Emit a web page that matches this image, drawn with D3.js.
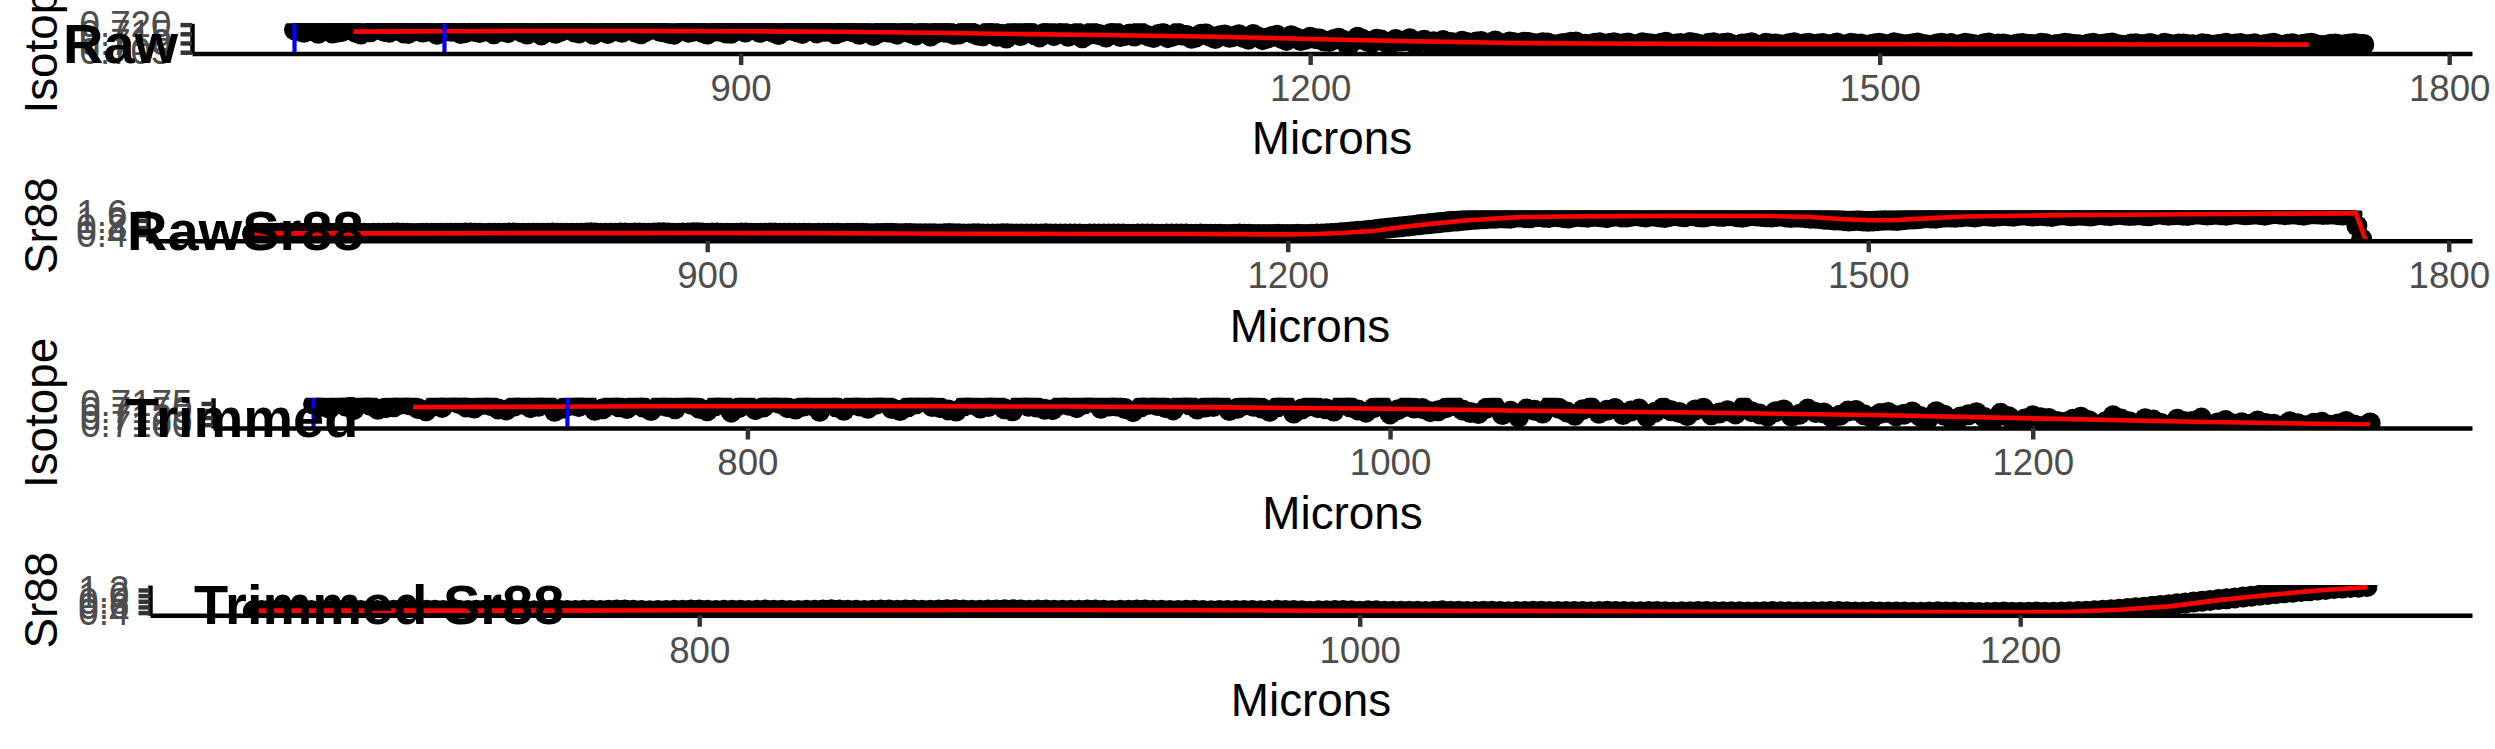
<!DOCTYPE html>
<html><head><meta charset="utf-8">
<script src="https://cdn.jsdelivr.net/npm/d3@7"></script>
<style>html,body{margin:0;padding:0;background:#fff;} svg{display:block;}</style>
</head><body>
<svg id="chart" width="2495" height="749"></svg>
<script>
// ---------------- DATA ----------------
// laser sampling grid (microns), one sample every 2.5 microns
const microns = d3.range(665, 1756, 2.5);

const isotopeRaw = [
0.7172,0.7165,0.7158,0.7177,0.7166,0.7153,0.7181,0.7169,0.7154,0.7160,0.7163,0.7174,0.7170,0.7157,0.7149,0.7167,0.7161,0.7182,0.7176,0.7162,
0.7159,0.7171,0.7168,0.7155,0.7152,0.7166,0.7173,0.7160,0.7165,0.7180,0.7147,0.7158,0.7169,0.7164,0.7178,0.7151,0.7156,0.7170,0.7163,0.7157,
0.7171,0.7162,0.7150,0.7168,0.7164,0.7156,0.7183,0.7172,0.7158,0.7149,0.7167,0.7175,0.7144,0.7161,0.7170,0.7153,0.7162,0.7179,0.7175,0.7160,
0.7155,0.7166,0.7168,0.7147,0.7179,0.7163,0.7151,0.7170,0.7166,0.7158,0.7172,0.7181,0.7157,0.7150,0.7163,0.7174,0.7185,0.7164,0.7160,0.7152,
0.7148,0.7167,0.7171,0.7159,0.7164,0.7176,0.7156,0.7149,0.7177,0.7165,0.7162,0.7154,0.7153,0.7171,0.7169,0.7160,0.7174,0.7182,0.7158,0.7166,
0.7166,0.7157,0.7146,0.7163,0.7172,0.7168,0.7161,0.7152,0.7180,0.7170,0.7155,0.7162,0.7164,0.7175,0.7150,0.7158,0.7170,0.7165,0.7159,0.7147,
0.7163,0.7170,0.7141,0.7155,0.7167,0.7160,0.7156,0.7148,0.7174,0.7163,0.7152,0.7144,0.7160,0.7168,0.7138,0.7153,0.7165,0.7159,0.7157,0.7146,
0.7149,0.7160,0.7168,0.7152,0.7143,0.7139,0.7158,0.7164,0.7136,0.7147,0.7127,0.7155,0.7151,0.7141,0.7170,0.7158,0.7145,0.7133,0.7153,0.7161,
0.7140,0.7151,0.7157,0.7136,0.7148,0.7155,0.7128,0.7144,0.7160,0.7149,0.7143,0.7132,0.7152,0.7158,0.7135,0.7141,0.7149,0.7138,0.7163,0.7146,
0.7138,0.7130,0.7146,0.7152,0.7129,0.7137,0.7155,0.7143,0.7141,0.7126,0.7133,0.7148,0.7150,0.7135,0.7124,0.7139,0.7143,0.7131,0.7137,0.7145,
0.7129,0.7121,0.7146,0.7133,0.7118,0.7127,0.7135,0.7142,0.7125,0.7114,0.7140,0.7128,0.7113,0.7120,0.7131,0.7124,0.7122,0.7111,0.7108,0.7119,
0.7126,0.7114,0.7082,0.7109,0.7131,0.7120,0.7110,0.7103,0.7121,0.7116,0.7104,0.7097,0.7119,0.7110,0.7112,0.7123,0.7098,0.7106,0.7115,0.7102,
0.7107,0.7100,0.7113,0.7104,0.7101,0.7095,0.7110,0.7103,0.7096,0.7105,0.7108,0.7098,0.7102,0.7111,0.7099,0.7093,0.7106,0.7101,0.7097,0.7104,
0.7103,0.7097,0.7094,0.7101,0.7100,0.7092,0.7089,0.7096,0.7098,0.7104,0.7105,0.7095,0.7093,0.7090,0.7099,0.7102,0.7091,0.7097,0.7102,0.7094,
0.7096,0.7100,0.7088,0.7093,0.7101,0.7097,0.7094,0.7089,0.7099,0.7104,0.7090,0.7095,0.7097,0.7092,0.7103,0.7098,0.7092,0.7087,0.7098,0.7101,
0.7093,0.7097,0.7100,0.7091,0.7087,0.7094,0.7096,0.7102,0.7091,0.7088,0.7099,0.7095,0.7094,0.7090,0.7089,0.7097,0.7101,0.7093,0.7095,0.7099,
0.7090,0.7094,0.7097,0.7089,0.7093,0.7100,0.7086,0.7092,0.7099,0.7095,0.7094,0.7088,0.7091,0.7096,0.7098,0.7093,0.7088,0.7101,0.7096,0.7091,
0.7092,0.7096,0.7100,0.7093,0.7089,0.7086,0.7095,0.7099,0.7093,0.7097,0.7087,0.7092,0.7098,0.7094,0.7091,0.7088,0.7096,0.7100,0.7090,0.7094,
0.7094,0.7091,0.7088,0.7095,0.7097,0.7093,0.7092,0.7089,0.7099,0.7096,0.7086,0.7091,0.7093,0.7098,0.7096,0.7092,0.7090,0.7087,0.7095,0.7099,
0.7089,0.7093,0.7097,0.7100,0.7092,0.7088,0.7087,0.7094,0.7096,0.7091,0.7093,0.7097,0.7090,0.7086,0.7098,0.7093,0.7088,0.7095,0.7094,0.7090,
0.7091,0.7088,0.7096,0.7093,0.7086,0.7090,0.7093,0.7098,0.7089,0.7094,0.7097,0.7091,0.7092,0.7096,0.7087,0.7090,0.7095,0.7099,0.7090,0.7087,
0.7093,0.7096,0.7088,0.7092,0.7096,0.7099,0.7091,0.7087,0.7086,0.7093,0.7094,0.7089,0.7090,0.7095,0.7097,0.7093,0.7092
];

const sr88Raw = [
0.46,0.47,0.48,0.47,0.47,0.48,0.49,0.47,0.46,0.47,0.47,0.48,0.48,0.47,0.46,0.47,0.47,0.48,0.49,0.48,
0.47,0.48,0.48,0.47,0.46,0.47,0.47,0.48,0.48,0.49,0.49,0.48,0.47,0.46,0.46,0.47,0.48,0.48,0.47,0.47,
0.48,0.48,0.47,0.48,0.49,0.49,0.48,0.47,0.46,0.47,0.47,0.48,0.48,0.49,0.49,0.48,0.47,0.48,0.48,0.48,
0.47,0.48,0.49,0.48,0.48,0.47,0.47,0.48,0.48,0.49,0.50,0.49,0.48,0.48,0.47,0.48,0.49,0.49,0.48,0.49,
0.49,0.48,0.48,0.49,0.50,0.50,0.49,0.48,0.48,0.49,0.49,0.50,0.50,0.49,0.48,0.49,0.49,0.48,0.48,0.48,
0.48,0.49,0.49,0.48,0.47,0.48,0.48,0.49,0.49,0.48,0.48,0.47,0.47,0.48,0.48,0.47,0.46,0.47,0.47,0.47,
0.47,0.47,0.46,0.47,0.48,0.47,0.47,0.46,0.45,0.46,0.46,0.47,0.47,0.46,0.45,0.46,0.46,0.45,0.45,0.45,
0.45,0.45,0.44,0.45,0.46,0.45,0.45,0.44,0.44,0.45,0.45,0.44,0.43,0.44,0.44,0.45,0.45,0.44,0.44,0.44,
0.44,0.44,0.43,0.44,0.45,0.44,0.44,0.43,0.43,0.44,0.44,0.43,0.42,0.43,0.43,0.44,0.44,0.43,0.43,0.43,
0.43,0.42,0.42,0.43,0.44,0.43,0.43,0.42,0.42,0.43,0.43,0.44,0.44,0.43,0.42,0.42,0.43,0.42,0.42,0.42,
0.42,0.41,0.41,0.42,0.43,0.42,0.42,0.41,0.41,0.40,0.40,0.41,0.42,0.41,0.41,0.41,0.42,0.41,0.41,0.42,
0.43,0.44,0.45,0.46,0.48,0.50,0.52,0.54,0.57,0.59,0.62,0.65,0.68,0.71,0.74,0.77,0.80,0.83,0.86,0.89,
0.92,0.95,0.98,1.01,1.04,1.07,1.10,1.12,1.15,1.17,1.20,1.22,1.25,1.27,1.29,1.30,1.32,1.33,1.35,1.34,
1.33,1.38,1.40,1.36,1.35,1.41,1.43,1.38,1.37,1.42,1.41,1.36,1.34,1.40,1.44,1.41,1.38,1.43,1.42,1.39,
1.36,1.42,1.45,1.40,1.39,1.44,1.47,1.43,1.40,1.45,1.44,1.39,1.37,1.43,1.48,1.44,1.41,1.47,1.46,1.41,
1.39,1.45,1.49,1.44,1.42,1.47,1.46,1.41,1.38,1.44,1.48,1.45,1.43,1.41,1.40,1.43,1.45,1.40,1.37,1.39,
1.38,1.36,1.33,1.32,1.30,1.27,1.25,1.23,1.22,1.19,1.17,1.19,1.20,1.17,1.15,1.17,1.19,1.21,1.22,1.21,
1.20,1.24,1.27,1.28,1.29,1.32,1.35,1.34,1.33,1.37,1.40,1.39,1.38,1.41,1.44,1.42,1.40,1.44,1.47,1.45,
1.42,1.46,1.49,1.46,1.44,1.48,1.51,1.48,1.45,1.47,1.48,1.45,1.43,1.48,1.52,1.49,1.46,1.48,1.50,1.47,
1.45,1.50,1.53,1.49,1.47,1.52,1.55,1.51,1.48,1.50,1.52,1.48,1.46,1.52,1.56,1.53,1.50,1.52,1.54,1.50,
1.48,1.53,1.57,1.54,1.51,1.53,1.55,1.52,1.49,1.54,1.58,1.55,1.52,1.54,1.56,1.53,1.50,1.55,1.59,1.56,
1.53,1.55,1.57,1.53,1.50,1.55,1.58,1.56,1.54,1.55,1.56,1.53,1.51,1.53,1.55,0.90,0.15
];

// rolling-mean (red) lines
const isoSmoothMicrons = [696,725,750,775,800,850,900,950,1000,1050,1100,1150,1200,1250,1300,1305,1350,1400,1450,1500,1550,1600,1650,1700,1726];
const isoSmoothValues  = [0.7162,0.7163,0.7164,0.7165,0.7165,0.7165,0.7164,0.7161,0.7156,0.7148,0.7142,0.7134,0.7122,0.7110,0.7101,0.7100,0.7097,0.7095,0.7094,0.7094,0.7093,0.7093,0.7092,0.7092,0.7091];
const srSmoothMicrons = [666,700,750,800,850,900,950,1000,1050,1100,1150,1200,1215,1230,1245,1260,1275,1290,1305,1320,1350,1400,1450,1470,1485,1500,1515,1530,1550,1600,1650,1700,1750,1752,1757];
const srSmoothValues  = [0.47,0.47,0.47,0.48,0.48,0.49,0.48,0.46,0.45,0.43,0.43,0.41,0.43,0.50,0.62,0.84,1.02,1.18,1.30,1.39,1.43,1.46,1.45,1.40,1.28,1.21,1.23,1.32,1.42,1.50,1.54,1.58,1.60,1.60,0.10];

// trim cut markers (blue) and trimmed window end
const cutMarkers = [665, 744];
const trimEnd = 1305;

const panelTitles = ["Raw", "RawSr88", "Trimmed", "Trimmed Sr88"];
const yTitles = ["Isotope", "Sr88", "Isotope", "Sr88"];
const xTitle = "Microns";
const xTickValues = [[900,1200,1500,1800],[900,1200,1500,1800],[800,1000,1200],[800,1000,1200]];
const yTickValues = [[0.705,0.710,0.715,0.720],[0.4,0.8,1.2,1.6],[0.7100,0.7125,0.7150,0.7175],[0.4,0.6,0.8,1.0,1.2]];
const yTickFormats = [".3f", ".1f", ".4f", ".1f"];
const xDomains = [[611,1812],[611,1812],[633.7,1336.7],[633.7,1336.8]];
const yDomains = [[0.7043,0.7207],[0.051,1.761],[0.7088,0.7195],[0.305,1.374]];

// ---------------- LAYOUT ----------------
const W = 2495, H = 749, band = H / 4;
const panelLeft = [192, 148, 213, 150];
const panelRight = 2472;
const topOff = 23.3, bottomOff = 53.5;
const titleX = [63, 127, 125, 194];
const titleBaseOff = 62.5;
const xLabBaseOff = 154.3;
const yTitleX = 57;
const FONT = "'Liberation Sans', Arial, Helvetica, sans-serif";
const lw = 4.45;

const svg = d3.select("#chart");
svg.append("rect").attr("width", W).attr("height", H).attr("fill", "#fff");

const rawIso = microns.map((m, i) => ({x: m, y: isotopeRaw[i]}));
const rawSr = microns.map((m, i) => ({x: m, y: sr88Raw[i]}));
const isoSmooth = isoSmoothMicrons.map((m, i) => ({x: m, y: isoSmoothValues[i]}));
const srSmooth = srSmoothMicrons.map((m, i) => ({x: m, y: srSmoothValues[i]}));
const trim = arr => arr.filter(d => d.x <= trimEnd);

const panels = [
  {pts: rawIso, line: isoSmooth, vlines: cutMarkers},
  {pts: rawSr, line: srSmooth, vlines: []},
  {pts: trim(rawIso), line: trim(isoSmooth), vlines: cutMarkers},
  {pts: trim(rawSr), line: trim(srSmooth), vlines: []}
];

panels.forEach((p, i) => {
  const off = i * band;
  const top = off + topOff, bottom = off + bottomOff;
  const left = panelLeft[i];
  const x = d3.scaleLinear().domain(xDomains[i]).range([left, panelRight]);
  const y = d3.scaleLinear().domain(yDomains[i]).range([bottom, top]);
  const g = svg.append("g");

  const cid = "clip" + i;
  g.append("clipPath").attr("id", cid).append("rect")
    .attr("x", left).attr("y", top).attr("width", panelRight - left).attr("height", bottom - top);
  const pg = g.append("g").attr("clip-path", `url(#${cid})`);

  pg.selectAll("circle").data(p.pts.filter(d => d.y !== undefined)).join("circle")
    .attr("cx", d => x(d.x)).attr("cy", d => y(d.y)).attr("r", 10.5).attr("fill", "#000");

  pg.append("path").datum(p.line)
    .attr("d", d3.line().x(d => x(d.x)).y(d => y(d.y)))
    .attr("fill", "none").attr("stroke", "#FF0000").attr("stroke-width", 4.6);

  pg.selectAll("line.v").data(p.vlines).join("line").attr("class", "v")
    .attr("x1", d => x(d)).attr("x2", d => x(d)).attr("y1", top).attr("y2", bottom)
    .attr("stroke", "#0000FF").attr("stroke-width", 4.2);

  // axes
  const xa = g.append("g").attr("transform", `translate(0,${bottom})`)
    .call(d3.axisBottom(x).tickValues(xTickValues[i]).tickFormat(d3.format("d"))
      .tickSize(11.5).tickSizeOuter(0).tickPadding(9.8));
  const ya = g.append("g").attr("transform", `translate(${left},0)`)
    .call(d3.axisLeft(y).tickValues(yTickValues[i]).tickFormat(d3.format(yTickFormats[i]))
      .tickSize(11.5).tickSizeOuter(0).tickPadding(9.2));
  [xa, ya].forEach(a => {
    a.select(".domain").attr("stroke", "#000").attr("stroke-width", lw);
    a.selectAll(".tick line").attr("stroke", "#333333").attr("stroke-width", lw);
    a.selectAll(".tick text").attr("fill", "#4D4D4D").attr("font-size", 36.67).attr("font-family", FONT);
  });

  // axis titles
  g.append("text").attr("x", (left + panelRight) / 2).attr("y", off + xLabBaseOff)
    .attr("text-anchor", "middle").attr("font-size", 45.83).attr("font-family", FONT)
    .attr("fill", "#000").text(xTitle);
  g.append("text").attr("transform", `translate(${yTitleX},${(top + bottom) / 2}) rotate(-90)`)
    .attr("text-anchor", "middle").attr("font-size", 45.83).attr("font-family", FONT)
    .attr("fill", "#000").text(yTitles[i]);

  // plot title
  g.append("text").attr("x", titleX[i]).attr("y", off + titleBaseOff)
    .attr("font-size", 56).attr("font-weight", "bold").attr("font-family", FONT)
    .attr("fill", "#000").text(panelTitles[i]);
});
</script>
</body></html>
